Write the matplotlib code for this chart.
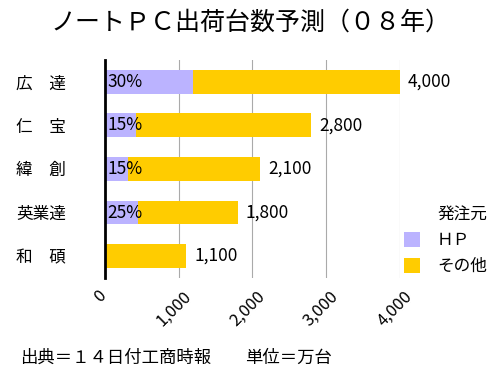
import matplotlib.pyplot as plt
from matplotlib.ticker import FuncFormatter
from matplotlib.transforms import ScaledTranslation

plt.rcParams['font.family'] = ['Noto Sans CJK JP', 'DejaVu Sans']

# data
makers = ['広\u3000達', '仁\u3000宝', '緯\u3000創', '英業達', '和\u3000碩']
totals = [4000, 2800, 2100, 1800, 1100]
hp_share = [30, 15, 15, 25, 0]
hp_vals = [t * s / 100 for t, s in zip(totals, hp_share)]
other_vals = [t - h for t, h in zip(totals, hp_vals)]
xticks = [0, 1000, 2000, 3000, 4000]

HP_COLOR = '#bbb3ff'
OTHER_COLOR = '#ffcc00'

fig = plt.figure(figsize=(5, 3.75), dpi=100)
ax = fig.add_axes([0.21, 0.259, 0.59, 0.581])

ypos = list(range(len(makers)))
ax.barh(ypos, hp_vals, height=0.55, color=HP_COLOR, label='ＨＰ', zorder=2)
ax.barh(ypos, other_vals, left=hp_vals, height=0.55, color=OTHER_COLOR,
        label='その他', zorder=2)

for y, t, s in zip(ypos, totals, hp_share):
    if s:
        ax.text(30, y, f'{s}%', ha='left', va='center', fontsize=12.5, zorder=3)
    ax.text(t + 110, y, f'{t:,}', ha='left', va='center', fontsize=12.5)

ax.set_xlim(0, 4000)
ax.set_ylim(len(makers) - 0.5, -0.5)
ax.set_yticks(ypos)
ax.set_yticklabels(makers, fontsize=12)
ax.tick_params(axis='y', length=0, pad=28)
ax.set_xticks(xticks)
ax.xaxis.set_major_formatter(FuncFormatter(lambda v, _: f'{int(v):,}'))
ax.tick_params(axis='x', length=0, labelsize=12, pad=7)
shift = ScaledTranslation(-5 / 100, 0, fig.dpi_scale_trans)
for lbl in ax.get_xticklabels():
    lbl.set_rotation(45)
    lbl.set_ha('center')
    lbl.set_va('top')
    lbl.set_transform(lbl.get_transform() + shift)

ax.grid(axis='x', color='#aaaaaa', linewidth=0.8, zorder=0)
for side in ['top', 'right', 'bottom']:
    ax.spines[side].set_visible(False)
ax.spines['left'].set_linewidth(2)
ax.spines['left'].set_zorder(4)

leg = ax.legend(title='発注元', loc='center left', bbox_to_anchor=(0.962, 0.17),
                frameon=False, fontsize=12, title_fontsize=12,
                handlelength=1.0, handleheight=1.0, handletextpad=1.0,
                labelspacing=0.5, alignment='right')

fig.text(0.5, 0.94, 'ノートＰＣ出荷台数予測（０８年）', ha='center', va='center',
         fontsize=18)
fig.text(0.04, 0.045, '出典＝１４日付工商時報', ha='left', va='center', fontsize=12.5)
fig.text(0.49, 0.045, '単位＝万台', ha='left', va='center', fontsize=12.5)

fig.savefig('out.png', dpi=100)
